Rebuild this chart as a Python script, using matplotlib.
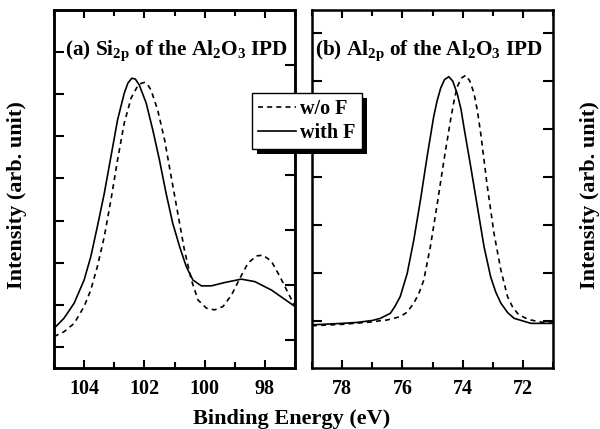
import matplotlib
matplotlib.use("Agg")
import matplotlib.pyplot as plt
from matplotlib.patches import Rectangle
import numpy as np

plt.rcParams['font.family'] = 'Liberation Serif'
plt.rcParams['font.weight'] = 'bold'
plt.rcParams['mathtext.fontset'] = 'custom'
plt.rcParams['mathtext.rm'] = 'Liberation Serif:bold'
plt.rcParams['mathtext.it'] = 'Liberation Serif:bold'
plt.rcParams['mathtext.bf'] = 'Liberation Serif:bold'

# (a) Si 2p, binding energy (eV) and intensity (arb.)
si_E_withF = [105.0, 104.67, 104.33, 104.0, 103.78, 103.56, 103.33, 103.11, 102.89, 102.67,
              102.55, 102.42, 102.3, 102.17, 101.94, 101.72, 101.5, 101.28, 101.06, 100.83,
              100.61, 100.39, 100.11, 99.78, 99.33, 98.78, 98.33, 97.78, 97.0]
si_I_withF = [0.44, 0.68, 1.04, 1.59, 2.14, 2.86, 3.65, 4.52, 5.39, 6.02,
              6.26, 6.38, 6.36, 6.22, 5.79, 5.15, 4.44, 3.65, 2.94, 2.38,
              1.91, 1.59, 1.45, 1.45, 1.53, 1.61, 1.55, 1.35, 0.96]
si_E_woF = [105.0, 104.67, 104.33, 104.0, 103.78, 103.56, 103.33, 103.11, 102.89, 102.67,
            102.44, 102.22, 102.1, 102.0, 101.9, 101.78, 101.56, 101.33, 101.11, 100.89,
            100.67, 100.44, 100.22, 99.94, 99.67, 99.39, 99.11, 98.83, 98.56, 98.28,
            98.06, 97.78, 97.5, 97.22, 97.0]
si_I_woF = [0.245, 0.36, 0.56, 0.96, 1.35, 1.91, 2.62, 3.49, 4.44, 5.31,
            5.91, 6.20, 6.26, 6.28, 6.24, 6.10, 5.63, 4.92, 4.04, 3.17,
            2.30, 1.59, 1.115, 0.92, 0.88, 0.96, 1.23, 1.63, 1.99, 2.16,
            2.18, 2.03, 1.67, 1.27, 0.96]

# (b) Al 2p
al_E_withF = [79.0, 78.0, 77.5, 77.0, 76.73, 76.4, 76.25, 76.07, 75.84, 75.62,
              75.4, 75.18, 74.96, 74.85, 74.73, 74.6, 74.46, 74.33, 74.18, 74.05,
              73.96, 73.73, 73.51, 73.29, 73.07, 72.9, 72.73, 72.5, 72.29, 71.73,
              71.0]
al_I_withF = [-0.08, -0.05, -0.03, 0.01, 0.055, 0.16, 0.3, 0.51, 0.99, 1.69,
              2.52, 3.42, 4.26, 4.58, 4.85, 5.03, 5.09, 5.0, 4.74, 4.4,
              4.05, 3.21, 2.38, 1.55, 0.92, 0.6, 0.37, 0.17, 0.055, -0.05,
              -0.05]
al_E_woF = [79.0, 78.0, 77.0, 76.73, 76.51, 76.07, 75.85, 75.62, 75.45, 75.29,
            75.07, 74.84, 74.62, 74.4, 74.29, 74.18, 74.04, 73.9, 73.76, 73.62,
            73.51, 73.4, 73.18, 72.96, 72.73, 72.51, 72.35, 72.18, 71.95, 71.73,
            71.18, 71.0]
al_I_woF = [-0.1, -0.07, -0.02, 0.006, 0.02, 0.09, 0.18, 0.37, 0.58, 0.85,
            1.55, 2.45, 3.35, 4.19, 4.57, 4.88, 5.06, 5.12, 5.0, 4.74,
            4.38, 3.91, 2.80, 1.83, 1.06, 0.51, 0.3, 0.16, 0.07, 0.02,
            -0.05, -0.04]

fig = plt.figure(figsize=(6.0, 4.29), dpi=100)
axa = fig.add_axes([54/600, 61/429, 241/600, 358/429])
axb = fig.add_axes([312/600, 61/429, 241/600, 358/429])

def style(ax):
    for s in ax.spines.values():
        s.set_linewidth(1.8)
    ax.tick_params(which='both', direction='in', top=True, width=1.5, labelsize=14.5, pad=8)
    ax.tick_params(which='major', length=6)
    ax.tick_params(which='minor', length=4)

dash = (3, 2.5)
l1, = axa.plot(si_E_woF, si_I_woF, 'k--', lw=1.2, dashes=dash, label='w/o F')
l2, = axa.plot(si_E_withF, si_I_withF, 'k-', lw=1.2, label='with F')
axa.set_xlim(105, 97)
axa.set_ylim(-0.5, 8.0)
axa.set_xticks([104, 102, 100, 98])
axa.set_xticks([105, 103, 101, 99, 97], minor=True)
axa.set_yticks(range(0, 8))
axa.set_yticklabels([])
style(axa)
axa.tick_params(axis='y', which='major', length=7)
twa = axa.twinx()
twa.set_ylim(-0.51, 6.0)
twa.set_yticks(range(0, 6))
twa.set_yticklabels([])
twa.tick_params(direction='in', length=7, width=1.5)
for s in twa.spines.values():
    s.set_linewidth(1.8)

axb.plot(al_E_woF, al_I_woF, 'k--', lw=1.2, dashes=dash)
axb.plot(al_E_withF, al_I_withF, 'k-', lw=1.2)
axb.set_xlim(79, 71)
axb.set_ylim(-0.98, 6.48)
axb.set_xticks([78, 76, 74, 72])
axb.set_xticks([79, 77, 75, 73, 71], minor=True)
axb.set_yticks(range(0, 7))
axb.set_yticklabels([])
style(axb)
axb.tick_params(axis='y', which='major', right=True, length=7)

for lab in axa.get_xticklabels() + axb.get_xticklabels():
    lab.set_fontweight('bold')

axa.text(0.045, 0.874, r'(a) Si$_{\rm 2p}$ of the Al$_{\rm 2}$O$_{\rm 3}$ IPD',
         transform=axa.transAxes, fontsize=15.3, fontweight='bold', va='baseline')
axb.text(0.012, 0.874, r'(b) Al$_{\rm 2p}$ of the Al$_{\rm 2}$O$_{\rm 3}$ IPD',
         transform=axb.transAxes, fontsize=15.3, fontweight='bold', va='baseline')

leg = fig.legend(handles=[l1, l2], loc='upper left', bbox_to_anchor=(252/600, 1 - 93/429),
                 fontsize=14.5, frameon=True, fancybox=False, edgecolor='k',
                 framealpha=1.0, facecolor='white',
                 handlelength=1.9, handletextpad=0.2,
                 borderpad=0.3, labelspacing=0.2, borderaxespad=0)
leg.get_frame().set_linewidth(1.0)
leg.set_zorder(10)
for t in leg.get_texts():
    t.set_fontweight('bold')

# black drop shadow behind the legend box
fig.canvas.draw()
bb = leg.get_window_extent().transformed(fig.transFigure.inverted())
fig.patches.append(Rectangle((bb.x0 + 5/600, bb.y0 - 5/429), bb.width, bb.height,
                             transform=fig.transFigure, facecolor='k', edgecolor='none',
                             zorder=9))

fig.text(292/600, 1 - 424/429, 'Binding Energy (eV)', ha='center', va='baseline',
         fontsize=16, fontweight='bold')
fig.text(17/600, 1 - 195/429, 'Intensity (arb. unit)', ha='center', va='center',
         rotation=90, fontsize=16, fontweight='bold')
fig.text(590/600, 1 - 195/429, 'Intensity (arb. unit)', ha='center', va='center',
         rotation=90, fontsize=16, fontweight='bold')

fig.savefig('out.png', dpi=100)
